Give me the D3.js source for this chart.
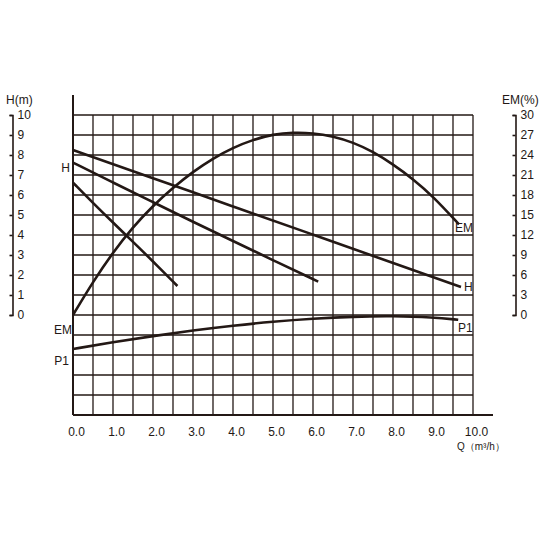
<!DOCTYPE html>
<html>
<head>
<meta charset="utf-8">
<script src="https://cdn.jsdelivr.net/npm/d3@7"></script>
<style>
  body { margin: 0; background: #fff; }
  svg text { font-family: "Liberation Sans", Arial, sans-serif; fill: #231815; }
</style>
</head>
<body>
<div id="chart"></div>
<script>
const width = 550;
const height = 550;
const ink = "#231815";

// flow values (m3/h)
const xTicks = [0, 1, 2, 3, 4, 5, 6, 7, 8, 9, 10];
const hTicks = [0, 1, 2, 3, 4, 5, 6, 7, 8, 9, 10];
const emTicks = [0, 3, 6, 9, 12, 15, 18, 21, 24, 27, 30];

// H curves (three speeds)
const h1Q = [0, 2, 4, 6, 8, 9.7];
const h1H = [8.25, 6.84, 5.43, 4.02, 2.6, 1.4];
const h2Q = [0, 1, 2, 3, 4, 5, 6.13];
const h2H = [7.62, 6.62, 5.64, 4.66, 3.7, 2.74, 1.67];
const h3Q = [0, 0.5, 1, 1.5, 2, 2.61];
const h3H = [6.62, 5.6, 4.62, 3.66, 2.68, 1.45];

// efficiency EM (%)
const emQ = [0, 0.5, 1, 1.5, 2, 2.5, 3, 3.5, 4, 4.5, 5, 5.5, 6, 6.5, 7, 7.5, 8, 8.5, 9, 9.65];
const emV = [0, 5.0, 9.4, 13.2, 16.4, 19.1, 21.5, 23.5, 25.1, 26.3, 27.1, 27.4, 27.3, 26.8, 25.9, 24.5, 22.6, 20.4, 17.8, 13.6];

// input power P1 (relative units in the lower band)
const p1Q = [0, 1, 2, 3, 4, 5, 6, 7, 8, 9, 9.63];
const p1V = [33, 36.4, 39.5, 42.3, 44.7, 46.7, 48.2, 49.2, 49.5, 48.9, 47.6];

const x = d3.scaleLinear().domain([0, 10]).range([73, 473]);
const y = d3.scaleLinear().domain([0, 10]).range([315, 115]);
const yEM = d3.scaleLinear().domain([0, 30]).range([315, 115]);
const yP1 = d3.scaleLinear().domain([0, 50]).range([415, 315]);

const svg = d3.select("#chart").append("svg")
  .attr("width", width)
  .attr("height", height);

// grid
const grid = svg.append("g").attr("stroke", ink).attr("stroke-width", 1.3);
grid.selectAll("line.v")
  .data(d3.range(1, 21).map(d => d / 2))
  .enter().append("line")
  .attr("x1", d => x(d)).attr("x2", d => x(d))
  .attr("y1", y(10)).attr("y2", y(-5));
grid.selectAll("line.h")
  .data(d3.range(-4, 11))
  .enter().append("line")
  .attr("x1", x(0)).attr("x2", x(10))
  .attr("y1", d => y(d)).attr("y2", d => y(d));

// main axes
svg.append("line")
  .attr("x1", x(0)).attr("x2", x(0))
  .attr("y1", 95).attr("y2", y(-5))
  .attr("stroke", ink).attr("stroke-width", 2);

const xAxis = svg.append("g")
  .attr("transform", `translate(0,${y(-5)})`)
  .call(d3.axisBottom(x).tickValues(xTicks).tickSize(0).tickPadding(12)
    .tickFormat(d3.format(".1f")));
xAxis.select(".domain").remove();
xAxis.selectAll("text").attr("font-size", 12).attr("dx", 3).style("font-family", null);
svg.append("line")
  .attr("x1", x(0)).attr("x2", 493)
  .attr("y1", y(-5)).attr("y2", y(-5))
  .attr("stroke", ink).attr("stroke-width", 2.2);

svg.append("text")
  .attr("x", 457).attr("y", 450)
  .attr("font-size", 10)
  .text("Q（m³/h）");

// side scales
function sideScale(scale, ticks, xPos) {
  const g = svg.append("g")
    .attr("transform", `translate(${xPos},0)`)
    .call(d3.axisRight(scale).tickValues(ticks)
      .tickSizeInner(-3).tickSizeOuter(-3).tickPadding(5));
  g.select(".domain").attr("stroke", ink).attr("stroke-width", 1.6);
  g.selectAll(".tick line").attr("stroke", ink).attr("stroke-width", 1.6);
  g.selectAll("text").attr("font-size", 12).style("font-family", null);
}
sideScale(y, hTicks, 12.5);
sideScale(yEM, emTicks, 515.5);

svg.append("text").attr("x", 6).attr("y", 104).attr("font-size", 12).text("H(m)");
svg.append("text").attr("x", 502).attr("y", 104).attr("font-size", 12).text("EM(%)");

// curves
const curves = [
  { q: h1Q, v: h1H, s: y },
  { q: h2Q, v: h2H, s: y },
  { q: h3Q, v: h3H, s: y },
  { q: emQ, v: emV, s: yEM },
  { q: p1Q, v: p1V, s: yP1 }
];
curves.forEach(c => {
  const pts = c.q.map((q, i) => [q, c.v[i]]);
  svg.append("path")
    .datum(pts)
    .attr("fill", "none")
    .attr("stroke", ink)
    .attr("stroke-width", 2.6)
    .attr("d", d3.line().x(d => x(d[0])).y(d => c.s(d[1])).curve(d3.curveBasis));
});

// curve labels
const labels = [
  { t: "H", x: 70, y: 172, a: "end" },
  { t: "EM", x: 72, y: 334, a: "end" },
  { t: "P1", x: 69, y: 365, a: "end" },
  { t: "EM", x: 455, y: 232, a: "start" },
  { t: "H", x: 464, y: 291, a: "start" },
  { t: "P1", x: 458, y: 332, a: "start" }
];
svg.selectAll("text.lbl")
  .data(labels)
  .enter().append("text")
  .attr("class", "lbl")
  .attr("x", d => d.x).attr("y", d => d.y)
  .attr("text-anchor", d => d.a)
  .attr("font-size", 12)
  .text(d => d.t);
</script>
</body>
</html>
